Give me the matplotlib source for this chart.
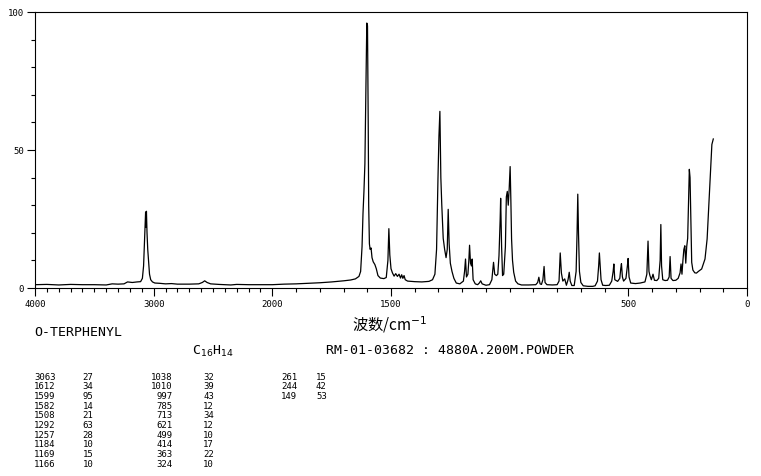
import numpy as np
import matplotlib
matplotlib.use("Agg")
import matplotlib.pyplot as plt
from matplotlib.ticker import MultipleLocator

# ---- spectrum (wavenumber, relative intensity) ----
wavenumber = [
    4000, 3900, 3800, 3700, 3600, 3500, 3400, 3350, 3300, 3250, 3220, 3180, 3140, 3110,
    3095, 3085, 3075, 3068, 3064, 3061, 3056, 3050, 3042, 3035, 3025, 3010, 2990, 2950,
    2900, 2850, 2800, 2700, 2620, 2590, 2570, 2550, 2520, 2450, 2350, 2300, 2200, 2100,
    2000, 1950, 1900, 1850, 1800, 1750, 1700, 1670, 1650, 1635, 1628, 1622, 1618, 1614,
    1610, 1606, 1602, 1599, 1596, 1594, 1591, 1588, 1584, 1580, 1575, 1568, 1562, 1555,
    1545, 1530, 1520, 1513, 1509, 1505, 1500, 1494, 1487, 1480, 1473, 1466, 1460, 1455,
    1450, 1445, 1440, 1430, 1400, 1370, 1340, 1325, 1315, 1308, 1302, 1298, 1294, 1290,
    1286, 1280, 1274, 1268, 1263, 1259, 1255, 1250, 1243, 1235, 1225, 1210, 1195, 1190,
    1186, 1182, 1176, 1172, 1169, 1165, 1161, 1158, 1154, 1145, 1135, 1128, 1122, 1116,
    1100, 1085, 1075, 1068, 1063, 1056, 1050, 1045, 1040, 1038, 1034, 1030, 1025, 1018,
    1014, 1010, 1006, 1002, 998, 995, 992, 988, 983, 975, 965, 950, 920, 890,
    882, 877, 872, 866, 860, 855, 851, 843, 820, 800, 792, 787, 782, 776,
    768, 761, 754, 749, 745, 738, 728, 720, 716, 713, 710, 706, 700, 690,
    670, 650, 640, 630, 625, 622, 619, 615, 608, 595, 580, 570, 564, 561,
    557, 545, 536, 532, 529, 525, 520, 510, 504, 501, 497, 490, 470, 450,
    430, 422, 417, 413, 409, 403, 396, 390, 380, 372, 366, 363, 360, 355,
    345, 335, 328, 324, 320, 312, 300, 290, 282, 278, 274, 270, 266, 262,
    258, 254, 250, 246, 243, 240, 237, 233, 228, 220, 213, 205, 191, 177,
    168, 159, 152, 148, 145, 142,
]
intensity = [
    1.2, 1.3, 1.1, 1.3, 1.2, 1.2, 1.1, 1.5, 1.4, 1.5, 2.2, 2.0, 2.2, 2.3,
    3.5, 8.0, 20.0, 27.5, 22.0, 27.8, 20.0, 14.0, 9.0, 5.0, 3.0, 2.2, 1.8, 1.7,
    1.5, 1.6, 1.4, 1.4, 1.5, 2.0, 2.6, 2.0, 1.5, 1.3, 1.1, 1.3, 1.2, 1.2,
    1.2, 1.4, 1.5, 1.7, 1.9, 2.2, 2.6, 2.9, 3.3, 4.2, 6.0, 15.0, 27.0, 35.0,
    45.0, 70.0, 96.0, 95.0, 60.0, 30.0, 16.0, 14.0, 14.5, 11.0, 9.5, 8.5, 7.0, 4.5,
    3.6, 3.4, 3.8, 10.0, 21.5, 12.0, 7.0, 5.5, 4.3, 5.2, 4.2, 5.0, 3.6, 4.8,
    3.5, 4.5, 3.0, 2.5, 2.3, 2.2, 2.4, 3.0, 5.0, 14.0, 40.0, 55.0, 64.0, 40.0,
    30.0, 18.0, 14.0, 11.0, 14.0, 28.5, 16.0, 9.0, 6.0, 3.5, 1.8, 1.5, 2.5, 6.0,
    10.5, 4.0, 5.0, 10.0, 15.5, 9.0, 8.0, 10.5, 3.0, 1.5, 1.2, 1.8, 2.6, 1.5,
    1.0, 1.2, 3.0, 9.3, 5.0, 4.5, 5.0, 11.7, 25.0, 32.5, 15.0, 4.5, 5.0, 15.0,
    33.0, 35.0, 30.0, 36.0, 44.0, 32.0, 17.8, 10.0, 5.7, 2.5, 1.5, 1.1, 1.1, 1.2,
    2.0, 3.9, 1.5, 1.3, 3.0, 7.8, 2.0, 1.2, 1.1, 1.2, 2.5, 12.7, 5.4, 2.5,
    3.3, 1.0, 3.0, 5.7, 2.5, 0.9, 0.9, 6.0, 20.0, 34.0, 20.0, 6.0, 2.0, 0.8,
    0.6, 0.6, 0.8, 2.5, 8.0, 12.7, 8.7, 3.0, 1.0, 0.9, 1.0, 2.5, 6.0, 8.7,
    3.0, 2.4, 3.5, 7.0, 8.8, 4.0, 2.5, 3.5, 8.0, 10.7, 4.0, 1.8, 1.6, 1.8,
    2.2, 5.0, 17.0, 6.0, 4.5, 3.0, 5.0, 2.8, 2.7, 3.5, 10.0, 23.0, 8.0, 3.0,
    2.7, 2.8, 4.0, 11.4, 3.5, 2.7, 2.8, 3.5, 5.5, 8.7, 5.0, 10.0, 14.0, 15.3,
    9.0, 15.0, 18.0, 32.0, 43.0, 40.0, 26.0, 9.3, 6.5, 5.5, 5.4, 6.0, 6.9, 10.5,
    17.8, 33.4, 45.5, 52.0, 53.0, 54.0,
]

# ---- peak table ----
col1_wn = ["3063", "1612", "1599", "1582", "1508", "1292", "1257", "1184", "1169", "1166"]
col1_in = ["27", "34", "95", "14", "21", "63", "28", "10", "15", "10"]
col2_wn = ["1038", "1010", "997", "785", "713", "621", "499", "414", "363", "324"]
col2_in = ["32", "39", "43", "12", "34", "12", "10", "17", "22", "10"]
col3_wn = ["261", "244", "149"]
col3_in = ["15", "42", "53"]

x_major = [4000, 3000, 2000, 1500, 500, 0]
x_major_labels = ["4000", "3000", "2000", "1500", "500", "0"]
x_minor = [v for v in range(100, 4000, 100) if v not in x_major]
y_major = [0, 50, 100]

W, H = 761, 477
fig = plt.figure(figsize=(W / 100, H / 100), dpi=100)
fig.patch.set_facecolor("white")

ax = fig.add_axes([35 / W, 1 - 289 / H, (747 - 35) / W, (289 - 13) / H])


def fwd(x):
    x = np.asarray(x, dtype=float)
    return np.where(x <= 2000, x, 2000 + (x - 2000) / 2.0)


def inv(y):
    y = np.asarray(y, dtype=float)
    return np.where(y <= 2000, y, 2000 + (y - 2000) * 2.0)


ax.set_xscale("function", functions=(fwd, inv))
ax.plot(wavenumber, intensity, color="black", lw=0.9)
ax.set_xlim(4000, 0)
ax.set_ylim(0, 100)

mono = "DejaVu Sans Mono"
ax.set_xticks(x_major)
ax.set_xticklabels(x_major_labels, fontfamily=mono, fontsize=6.5)
ax.set_xticks(x_minor, minor=True)
ax.set_yticks(y_major)
ax.set_yticklabels([str(v) for v in y_major], fontfamily=mono, fontsize=6.5)
ax.yaxis.set_minor_locator(MultipleLocator(10))
ax.tick_params(which="major", length=6, width=0.8, direction="out", pad=2, colors="black")
ax.tick_params(which="minor", length=3, width=0.8, direction="out", colors="black")
for s in ax.spines.values():
    s.set_linewidth(0.8)
    s.set_color("black")

# axis label
fig.text(390 / W, 1 - 325 / H, "波数/cm$^{-1}$", fontsize=11,
         family=["Noto Sans CJK SC", "DejaVu Sans"], ha="center", va="center")

# header texts
fig.text(34 / W, 1 - 333 / H, "O-TERPHENYL", fontsize=9.5, family=mono, va="center")
fig.text(192 / W, 1 - 351 / H, "C$_{16}$H$_{14}$", fontsize=9.5, family=mono, va="center")
fig.text(326 / W, 1 - 351 / H, "RM-01-03682 : 4880A.200M.POWDER", fontsize=9.5,
         family=mono, va="center")

# peak table
row0, dy = 377.3, 9.67
for i in range(len(col1_wn)):
    y = 1 - (row0 + i * dy) / H
    fig.text(34.3 / W, y, col1_wn[i], fontsize=6.5, family=mono, va="center")
    fig.text(82.7 / W, y, col1_in[i], fontsize=6.5, family=mono, va="center")
for i in range(len(col2_wn)):
    y = 1 - (row0 + i * dy) / H
    fig.text(172.3 / W, y, col2_wn[i], fontsize=6.5, family=mono, va="center", ha="right")
    fig.text(203.3 / W, y, col2_in[i], fontsize=6.5, family=mono, va="center")
for i in range(len(col3_wn)):
    y = 1 - (row0 + i * dy) / H
    fig.text(281 / W, y, col3_wn[i], fontsize=6.5, family=mono, va="center")
    fig.text(316 / W, y, col3_in[i], fontsize=6.5, family=mono, va="center")

fig.savefig("out.png", dpi=100, facecolor="white")
